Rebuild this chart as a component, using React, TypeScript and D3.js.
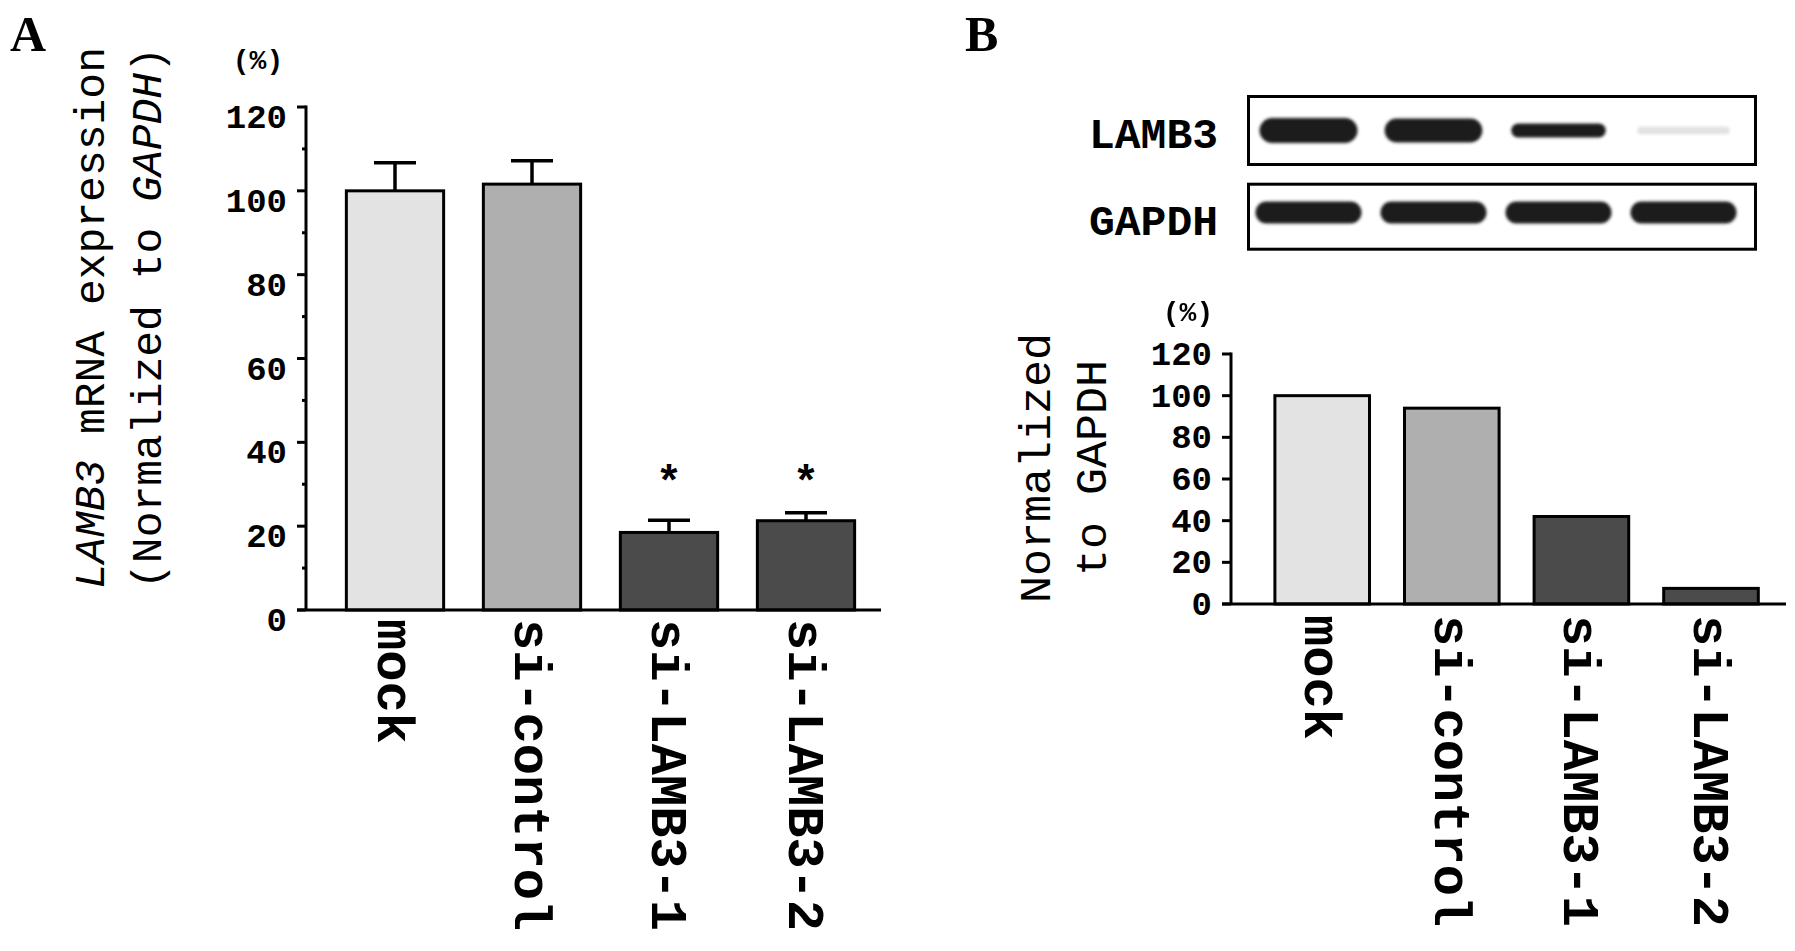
import React from 'react';
import * as d3 from 'd3';

// ---------- data ----------
const categories = ['mock', 'si-control', 'si-LAMB3-1', 'si-LAMB3-2'];
const mrnaMean = [100, 101.6, 18.5, 21.3];
const mrnaSE = [6.7, 5.6, 2.9, 1.9];
const mrnaSignificant = [false, false, true, true];
const proteinNormalized = [100, 94, 42, 7.5];
const gapdhLoading = [1, 1, 1, 1];
const yTicks = [0, 20, 40, 60, 80, 100, 120];
const yMinorTicks = [10, 30, 50, 70, 90, 110];

// ---------- styles ----------
const FILLS = ['#e3e3e3', '#afafaf', '#4b4b4b', '#4b4b4b'];
const MONO = "'Courier New', 'Liberation Mono', monospace";
const SERIF = "'Liberation Serif', 'Times New Roman', serif";
const SW = 3;

export default function App() {
  React.useEffect(() => {
    document.body.style.margin = '0';
    document.body.style.overflow = 'hidden';
  }, []);

  // Panel A scales
  const yA = d3.scaleLinear().domain([0, 120]).range([610, 107]);
  const xA = d3.scaleBand<string>().domain(categories).range([326.5, 874.5]).paddingInner(0.29).paddingOuter(0.145);
  // Panel B scales
  const yB = d3.scaleLinear().domain([0, 120]).range([604, 354]);
  const xB = d3.scaleBand<string>().domain(categories).range([1257.4, 1775.8]).paddingInner(0.27).paddingOuter(0.135);
  // blot lanes
  const lane = d3.scaleBand<string>().domain(categories).range([1246, 1746]).paddingInner(0.2).paddingOuter(0.1);
  const bandH = d3.scaleLinear().domain([0, 1]).range([6, 25]);
  const bandOp = d3.scalePow().exponent(1.3).domain([0, 0.4]).range([0, 1]).clamp(true);

  const axA = { x: 306, x0: 297, x1: 881 };
  const axB = { x: 1231, x0: 1222, x1: 1786 };

  const sigTops = categories.map((c, i) => (mrnaSignificant[i] ? yA(mrnaMean[i] + mrnaSE[i]) : Infinity));
  const astY = Math.min(...sigTops) - 40;

  return (
    <svg width={1795} height={951} style={{ position: 'absolute', left: 0, top: 0, background: '#fff' }}>
      <defs>
        <filter id="blur" filterUnits="userSpaceOnUse" x={1200} y={60} width={600} height={230}>
          <feGaussianBlur stdDeviation={1.8} />
        </filter>
      </defs>
      <rect x={0} y={0} width={1795} height={951} fill="#fff" />

      {/* ---------------- Panel A ---------------- */}
      <text x={10} y={51} fontFamily={SERIF} fontWeight="bold" fontSize={50}>A</text>
      <text x={258} y={69} fontFamily={MONO} fontWeight="bold" fontSize={28} textAnchor="middle">(%)</text>

      {/* y title */}
      <text transform={`translate(104,318) rotate(-90)`} fontFamily={MONO} fontSize={43} textAnchor="middle">
        <tspan fontStyle="italic">LAMB3</tspan> mRNA expression
      </text>
      <text transform={`translate(161,318) rotate(-90)`} fontFamily={MONO} fontSize={43} textAnchor="middle">
        (Normalized to <tspan fontStyle="italic">GAPDH</tspan>)
      </text>

      {/* bars */}
      {categories.map((c, i) => (
        <rect key={c} x={xA(c)} y={yA(mrnaMean[i])} width={xA.bandwidth()} height={yA(0) - yA(mrnaMean[i])}
          fill={FILLS[i]} stroke="#000" strokeWidth={SW} />
      ))}
      {/* error bars */}
      {categories.map((c, i) => {
        const cx = (xA(c) as number) + xA.bandwidth() / 2;
        return (
          <g key={c} stroke="#000" strokeWidth={3.5}>
            <line x1={cx} x2={cx} y1={yA(mrnaMean[i])} y2={yA(mrnaMean[i] + mrnaSE[i])} />
            <line x1={cx - 21} x2={cx + 21} y1={yA(mrnaMean[i] + mrnaSE[i])} y2={yA(mrnaMean[i] + mrnaSE[i])} />
          </g>
        );
      })}
      {/* asterisks */}
      {categories.map((c, i) => mrnaSignificant[i] ? (
        <text key={c} x={(xA(c) as number) + xA.bandwidth() / 2} y={astY + 0.53 * 44} fontFamily={MONO}
          fontWeight="bold" fontSize={44} textAnchor="middle">*</text>
      ) : null)}

      {/* axes A */}
      <line x1={axA.x} x2={axA.x} y1={yA(120) - 1.5} y2={yA(0)} stroke="#000" strokeWidth={SW} />
      <line x1={axA.x0} x2={axA.x1} y1={yA(0)} y2={yA(0)} stroke="#000" strokeWidth={SW} />
      {yTicks.map(t => (
        <g key={t}>
          <line x1={axA.x0} x2={axA.x} y1={yA(t)} y2={yA(t)} stroke="#000" strokeWidth={SW} />
          <text x={287} y={yA(t) + 21} fontFamily={MONO} fontWeight="bold" fontSize={34} textAnchor="end">{t}</text>
        </g>
      ))}
      {yMinorTicks.map(t => (
        <line key={t} x1={axA.x - 4} x2={axA.x} y1={yA(t)} y2={yA(t)} stroke="#000" strokeWidth={SW} />
      ))}
      {categories.map(c => (
        <text key={c} transform={`translate(${(xA(c) as number) + xA.bandwidth() / 2},${yA(0) + 9}) rotate(90)`}
          dy={17} fontFamily={MONO} fontWeight="bold" fontSize={52}>{c}</text>
      ))}

      {/* ---------------- Panel B ---------------- */}
      <text x={965} y={51} fontFamily={SERIF} fontWeight="bold" fontSize={50}>B</text>

      {/* western blot */}
      <text x={1218} y={148} fontFamily={MONO} fontWeight="bold" fontSize={43} textAnchor="end">LAMB3</text>
      <text x={1218} y={235} fontFamily={MONO} fontWeight="bold" fontSize={43} textAnchor="end">GAPDH</text>
      <g filter="url(#blur)">
        {categories.map((c, i) => {
          const inten = (proteinNormalized[i] / 100) * gapdhLoading[i];
          const cx = (lane(c) as number) + lane.bandwidth() / 2;
          const w = lane.bandwidth() * (0.92 + 0.06 * inten);
          const h = bandH(inten);
          return (
            <rect key={'l' + c} x={cx - w / 2} y={130.5 - h / 2} width={w} height={h} rx={h / 2}
              fill="#1e1e1e" opacity={bandOp(inten)} />
          );
        })}
        {categories.map((c, i) => {
          const cx = (lane(c) as number) + lane.bandwidth() / 2;
          const w = lane.bandwidth() * 1.06;
          const h = 22 * gapdhLoading[i];
          return (
            <rect key={'g' + c} x={cx - w / 2} y={212.5 - h / 2} width={w} height={h} rx={h / 2}
              fill="#1e1e1e" />
          );
        })}
      </g>
      <rect x={1248.5} y={96.5} width={507} height={68} fill="none" stroke="#000" strokeWidth={SW} />
      <rect x={1248.5} y={184.2} width={507} height={65} fill="none" stroke="#000" strokeWidth={SW} />

      <text x={1188} y={321} fontFamily={MONO} fontWeight="bold" fontSize={28} textAnchor="middle">(%)</text>
      <text transform={`translate(1050,468) rotate(-90)`} fontFamily={MONO} fontSize={45} textAnchor="middle">Normalized</text>
      <text transform={`translate(1106,468) rotate(-90)`} fontFamily={MONO} fontSize={45} textAnchor="middle">to GAPDH</text>

      {categories.map((c, i) => (
        <rect key={c} x={xB(c)} y={yB(proteinNormalized[i])} width={xB.bandwidth()}
          height={yB(0) - yB(proteinNormalized[i])} fill={FILLS[i]} stroke="#000" strokeWidth={SW} />
      ))}
      <line x1={axB.x} x2={axB.x} y1={yB(120) - 1.5} y2={yB(0)} stroke="#000" strokeWidth={SW} />
      <line x1={axB.x0} x2={axB.x1} y1={yB(0)} y2={yB(0)} stroke="#000" strokeWidth={SW} />
      {yTicks.map(t => (
        <g key={t}>
          <line x1={axB.x0} x2={axB.x} y1={yB(t)} y2={yB(t)} stroke="#000" strokeWidth={SW} />
          <text x={1212} y={yB(t) + 11} fontFamily={MONO} fontWeight="bold" fontSize={34} textAnchor="end">{t}</text>
        </g>
      ))}
      {categories.map(c => (
        <text key={c} transform={`translate(${(xB(c) as number) + xB.bandwidth() / 2},${yB(0) + 11}) rotate(90)`}
          dy={17} fontFamily={MONO} fontWeight="bold" fontSize={52}>{c}</text>
      ))}
    </svg>
  );
}
